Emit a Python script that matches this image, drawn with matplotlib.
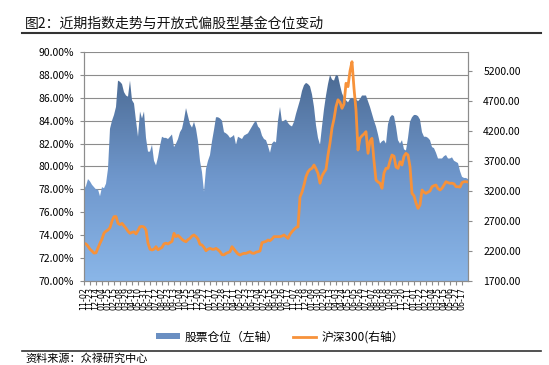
import numpy as np
import matplotlib.pyplot as plt
from matplotlib.colors import LinearSegmentedColormap
from matplotlib.patches import Patch
from matplotlib.lines import Line2D

plt.rcParams['font.family'] = ['Noto Sans CJK SC', 'DejaVu Sans']

# weekly data, starting 2012-11-02 (Fridays)
# stock position of open-end equity funds (%), left axis
pos = [78.0, 78.3, 78.9, 78.7, 78.4, 78.2, 78.0, 78.0, 77.4, 78.2,
       78.1, 78.5, 79.8, 83.3, 84.0, 84.5, 85.2, 87.5, 87.4, 87.2,
       86.5, 86.2, 86.1, 87.5, 85.8, 85.5, 84.0, 82.6, 84.8, 84.2,
       84.8, 82.5, 81.3, 81.3, 81.9, 80.5, 80.1, 80.8, 81.8, 82.6,
       82.5, 82.5, 82.4, 82.6, 82.8, 81.7, 82.0, 82.4, 83.0, 83.3,
       84.1, 85.1, 84.4, 83.7, 83.4, 83.9, 83.3, 82.2, 80.5, 79.5,
       77.8, 79.8, 80.5, 81.0, 82.2, 83.2, 84.3, 84.3, 84.2, 84.0,
       83.0, 82.9, 82.75, 82.5, 82.6, 82.75, 81.9, 82.6, 82.5, 82.4,
       82.7, 82.8, 82.9, 83.2, 83.5, 83.8, 84.0, 83.5, 83.3, 82.7,
       82.4, 82.3, 81.8, 81.2, 82.0, 82.2, 82.1, 84.0, 85.2, 83.9,
       84.0, 84.1, 83.8, 83.6, 83.5, 83.9, 84.6, 85.2, 85.8, 86.6,
       87.1, 87.3, 87.2, 87.0, 86.3, 85.2, 83.6, 82.5, 81.9, 83.5,
       85.0, 86.2, 87.2, 88.0, 87.6, 87.5, 88.0, 87.9, 87.1, 86.4,
       86.0, 85.8, 85.6, 85.9, 86.0, 85.9, 85.9, 85.7, 85.9, 86.2,
       86.2, 86.2, 85.7, 85.2, 84.6, 84.0, 83.5, 82.8, 82.0, 82.2,
       82.3, 82.0, 83.7, 84.3, 84.5, 84.4, 83.5, 82.3, 82.0, 82.3,
       81.5, 81.4, 82.5, 83.9, 84.3, 84.5, 84.5, 84.4, 84.1, 83.0,
       82.6, 82.6, 82.5, 82.3, 81.7, 81.6, 81.2, 80.7, 80.7, 80.7,
       80.9, 81.0, 80.7, 80.7, 80.8, 80.5, 80.4, 80.3, 79.6, 79.1,
       79.0, 79.0, 78.9]

# CSI 300 index, right axis
csi = [2330, 2317, 2280, 2230, 2200, 2165, 2170, 2250, 2330, 2400,
       2500, 2530, 2550, 2590, 2700, 2772, 2775, 2660, 2640, 2661,
       2620, 2578, 2530, 2495, 2510, 2520, 2485, 2540, 2605, 2610,
       2600, 2550, 2330, 2230, 2217, 2230, 2272, 2220, 2240, 2260,
       2320, 2330, 2317, 2340, 2360, 2495, 2440, 2460, 2430, 2394,
       2370, 2355, 2390, 2411, 2450, 2467, 2440, 2400, 2311, 2300,
       2260, 2205, 2230, 2244, 2230, 2228, 2244, 2220, 2189, 2140,
       2135, 2161, 2175, 2189, 2272, 2230, 2189, 2150, 2133, 2150,
       2161, 2161, 2175, 2189, 2165, 2161, 2180, 2189, 2200, 2339,
       2350, 2360, 2383, 2372, 2400, 2439, 2439, 2440, 2439, 2450,
       2467, 2440, 2411, 2480, 2522, 2560, 2590, 2605, 3100, 3180,
       3300, 3439, 3520, 3560, 3578, 3633, 3570, 3494, 3330, 3450,
       3510, 3560, 3800, 4000, 4250, 4400, 4605, 4720, 4680, 4578,
       4650, 4995, 4940, 5200, 5355, 4911, 4550, 3883, 4080, 4120,
       4150, 4189, 3828, 4030, 4078, 3700, 3383, 3350, 3330, 3245,
       3500, 3578, 3578, 3700, 3800, 3780, 3600, 3578, 3688, 3633,
       3780, 3828, 3800, 3606, 3161, 3120, 3000, 2911, 2966, 3217,
       3180, 3161, 3180, 3200, 3272, 3290, 3300, 3240, 3217, 3245,
       3300, 3355, 3340, 3328, 3330, 3320, 3272, 3272, 3265, 3340,
       3355, 3355, 3350]

# one label every 3 weeks
date_labels = ['11-02', '11-23', '12-14', '01-04', '01-25', '02-15', '03-08', '03-29',
               '04-19', '05-10', '05-31', '06-21', '07-12', '08-02', '08-23', '09-13',
               '10-04', '10-25', '11-15', '12-06', '12-27', '01-17', '02-07', '02-28',
               '03-21', '04-11', '05-02', '05-23', '06-13', '07-04', '07-25', '08-15',
               '09-05', '09-26', '10-17', '11-07', '11-28', '12-19', '01-09', '01-30',
               '02-20', '03-13', '04-03', '04-24', '05-15', '06-05', '06-26', '07-17',
               '08-07', '08-28', '09-18', '10-09', '10-30', '11-20', '12-11', '01-01',
               '01-22', '02-12', '03-04', '03-25', '04-15', '05-06', '05-27', '06-17']
label_step = 3

W, H = 549, 365
fig = plt.figure(figsize=(W / 100, H / 100), dpi=100)
ax = fig.add_axes([84 / W, 1 - 281 / H, 384 / W, 229 / H])

x = np.arange(len(pos))
n = len(pos)

# gradient filled area
poly = ax.fill_between(x, 70, pos, facecolor='none', edgecolor='none')
cmap = LinearSegmentedColormap.from_list('area', ['#8ab6e8', '#6f97cc', '#4c6b94'])
grad = np.linspace(0, 1, 256).reshape(-1, 1)
im = ax.imshow(grad, cmap=cmap, aspect='auto', origin='lower',
               extent=[0, n - 1, 70, max(pos)], zorder=2)
im.set_clip_path(poly.get_paths()[0], transform=ax.transData)

ax.set_xlim(0, n - 1)
ax.set_ylim(70, 90)
ax.set_yticks(np.arange(70, 90.1, 2))
ax.set_yticklabels(['%.2f%%' % v for v in np.arange(70, 90.1, 2)])
ax.yaxis.grid(True, color='#8c8c8c', lw=0.8)
ax.set_axisbelow(True)

ax.set_xticks(np.arange(len(date_labels)) * label_step)
ax.set_xticklabels(date_labels, rotation=90, fontsize=5.8, family='DejaVu Sans')

ax2 = ax.twinx()
ax2.plot(x, csi, color='#f7923a', lw=2, solid_joinstyle='round')
ax2.set_ylim(1700, 5517)
ax2.set_yticks(np.arange(1700, 5201, 500))
ax2.set_yticklabels(['%.2f' % v for v in np.arange(1700, 5201, 500)])

for a in (ax, ax2):
    a.tick_params(length=3, width=0.8, color='#8c8c8c', labelsize=7.5)
    for s in a.spines.values():
        s.set_color('#8c8c8c')
        s.set_linewidth(0.8)
    a.spines['top'].set_visible(False)
ax.tick_params(axis='x', labelsize=5.8, pad=1.5)
ax.tick_params(axis='y', pad=4)
ax2.tick_params(axis='y', pad=8)

# title & footer
fig.text(25 / W, 1 - 24 / H, '图2：近期指数走势与开放式偏股型基金仓位变动',
         fontsize=10, va='center', ha='left', color='#111111')
fig.add_artist(Line2D([22 / W, 541 / W], [1 - 33 / H] * 2, color='#333333', lw=1.5))
fig.add_artist(Line2D([22 / W, 541 / W], [1 - 351 / H] * 2, color='#333333', lw=1.2))
fig.text(25 / W, 1 - 359 / H, '资料来源：众禄研究中心', fontsize=8, va='center', ha='left')

handles = [Patch(facecolor='#6a8fc2', edgecolor='none'),
           Line2D([], [], color='#f7923a', lw=2)]
fig.legend(handles, ['股票仓位（左轴）', '沪深300(右轴）'], ncol=2, frameon=False,
           loc='center', bbox_to_anchor=(280 / W, 1 - 337 / H), fontsize=8.5,
           handlelength=2.0, handleheight=0.45, columnspacing=1.2, handletextpad=0.4)

fig.savefig('out.png', dpi=100)
